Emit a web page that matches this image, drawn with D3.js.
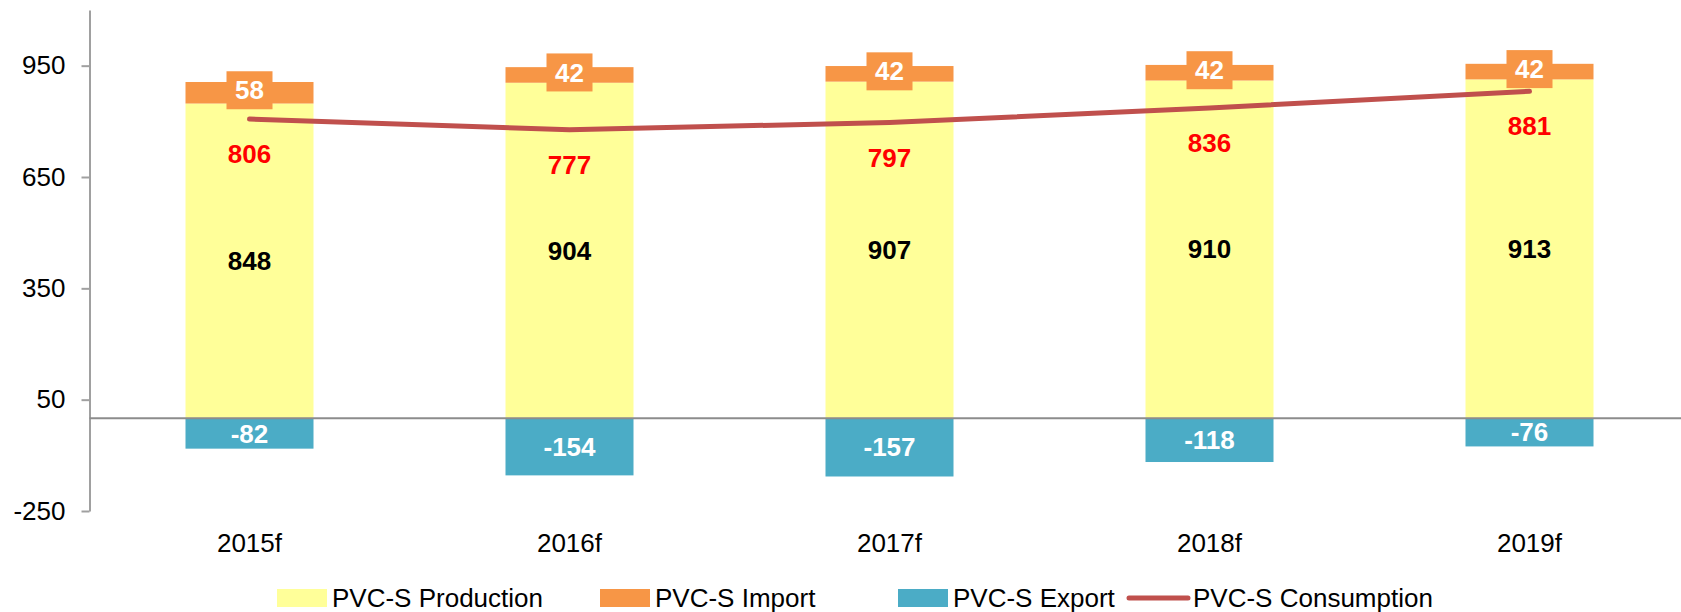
<!DOCTYPE html>
<html>
<head>
<meta charset="utf-8">
<script src="https://cdn.jsdelivr.net/npm/d3@7/dist/d3.min.js"></script>
<style>
  html, body { margin: 0; padding: 0; background: #fff; }
  svg { display: block; font-family: "Liberation Sans", Arial, sans-serif; }
</style>
</head>
<body>
<svg id="chart" width="1681" height="612"></svg>
<script>
const categories = ["2015f", "2016f", "2017f", "2018f", "2019f"];
const production = [848, 904, 907, 910, 913];
const imports = [58, 42, 42, 42, 42];
const exportsV = [-82, -154, -157, -118, -76];
const consumption = [806, 777, 797, 836, 881];
const tickValues = [-250, 50, 350, 650, 950];
const legendLabels = ["PVC-S Production", "PVC-S Import", "PVC-S Export", "PVC-S Consumption"];

const colors = { prod: "#FFFF99", imp: "#F79646", exp: "#4BACC6", line: "#C0504D" };
const FS = 26;

const svg = d3.select("#chart");
const W = 1681;

const y = d3.scaleLinear().domain([-250, 1100]).range([511, 10]);
const x = d3.scaleBand().domain(categories).range([89.5, 1689.5]).paddingInner(0.6).paddingOuter(0.3);
const bw = x.bandwidth();

// Bars
const g = svg.append("g");
g.selectAll("rect.prod").data(categories).join("rect")
  .attr("x", d => x(d)).attr("width", bw)
  .attr("y", (d, i) => y(production[i])).attr("height", (d, i) => y(0) - y(production[i]))
  .attr("fill", colors.prod);
g.selectAll("rect.imp").data(categories).join("rect")
  .attr("x", d => x(d)).attr("width", bw)
  .attr("y", (d, i) => y(production[i] + imports[i]))
  .attr("height", (d, i) => y(production[i]) - y(production[i] + imports[i]))
  .attr("fill", colors.imp);
g.selectAll("rect.exp").data(categories).join("rect")
  .attr("x", d => x(d)).attr("width", bw)
  .attr("y", y(0)).attr("height", (d, i) => y(exportsV[i]) - y(0))
  .attr("fill", colors.exp);

// Axis
const axis = d3.axisLeft(y).tickValues(tickValues).tickFormat(d => String(d))
  .tickSize(8).tickSizeOuter(0).tickPadding(16);
const ag = svg.append("g").attr("transform", "translate(89.5,0)").call(axis);
ag.select(".domain").attr("stroke", "#A0A0A0").attr("stroke-width", 2);
ag.selectAll(".tick line").attr("stroke", "#A0A0A0").attr("stroke-width", 2);
ag.selectAll(".tick text").attr("font-size", FS).attr("fill", "#000")
  .attr("font-family", "'Liberation Sans', Arial, sans-serif");

// Zero line
svg.append("line").attr("x1", 89.5).attr("x2", W).attr("y1", y(0)).attr("y2", y(0))
  .attr("stroke", "#8C8C8C").attr("stroke-width", 2);

// Category labels
svg.selectAll("text.cat").data(categories).join("text")
  .attr("x", d => x(d) + bw / 2).attr("y", 552).attr("text-anchor", "middle")
  .attr("font-size", FS).attr("fill", "#000").text(d => d);

// Consumption line
const line = d3.line().x((d, i) => x(categories[i]) + bw / 2).y(d => y(d));
svg.append("path").datum(consumption).attr("d", line)
  .attr("fill", "none").attr("stroke", colors.line).attr("stroke-width", 5)
  .attr("stroke-linecap", "round").attr("stroke-linejoin", "round");

// Production labels
svg.selectAll("text.prodl").data(categories).join("text")
  .attr("x", d => x(d) + bw / 2).attr("y", (d, i) => (y(production[i]) + y(0)) / 2)
  .attr("dy", "0.35em").attr("text-anchor", "middle").attr("font-size", FS).attr("font-weight", "bold")
  .attr("fill", "#000").text((d, i) => production[i]);

// Export labels
svg.selectAll("text.expl").data(categories).join("text")
  .attr("x", d => x(d) + bw / 2).attr("y", (d, i) => (y(exportsV[i]) + y(0)) / 2)
  .attr("dy", "0.35em").attr("text-anchor", "middle").attr("font-size", FS).attr("font-weight", "bold")
  .attr("fill", "#fff").text((d, i) => exportsV[i]);

// Consumption labels
svg.selectAll("text.conl").data(categories).join("text")
  .attr("x", d => x(d) + bw / 2).attr("y", (d, i) => y(consumption[i]) + 35)
  .attr("dy", "0.35em").attr("text-anchor", "middle").attr("font-size", FS).attr("font-weight", "bold")
  .attr("fill", "#FF0000").text((d, i) => consumption[i]);

// Import labels with boxes
const ig = svg.selectAll("g.impl").data(categories).join("g")
  .attr("transform", (d, i) => `translate(${x(d) + bw / 2},${(y(production[i] + imports[i]) + y(production[i])) / 2 - 2.5})`);
ig.append("rect").attr("x", -23).attr("y", -19).attr("width", 46).attr("height", 38).attr("fill", colors.imp);
ig.append("text").attr("dy", "0.35em").attr("text-anchor", "middle").attr("font-size", FS)
  .attr("font-weight", "bold").attr("fill", "#fff").text((d, i) => imports[i]);

// Legend
const legendItems = [
  { label: legendLabels[0], x: 277, type: "rect", color: colors.prod },
  { label: legendLabels[1], x: 600, type: "rect", color: colors.imp },
  { label: legendLabels[2], x: 898, type: "rect", color: colors.exp },
  { label: legendLabels[3], x: 1127, type: "line", color: colors.line }
];
const lg = svg.selectAll("g.leg").data(legendItems).join("g")
  .attr("transform", d => `translate(${d.x},598)`);
lg.filter(d => d.type === "rect").append("rect")
  .attr("x", 0).attr("y", -9).attr("width", 50).attr("height", 18).attr("fill", d => d.color);
lg.filter(d => d.type === "line").append("line")
  .attr("x1", 2).attr("x2", 61).attr("y1", 0).attr("y2", 0)
  .attr("stroke", d => d.color).attr("stroke-width", 5).attr("stroke-linecap", "round");
lg.append("text").attr("x", d => d.type === "line" ? 66 : 55).attr("y", 9)
  .attr("font-size", FS).attr("fill", "#000").text(d => d.label);
</script>
</body>
</html>
